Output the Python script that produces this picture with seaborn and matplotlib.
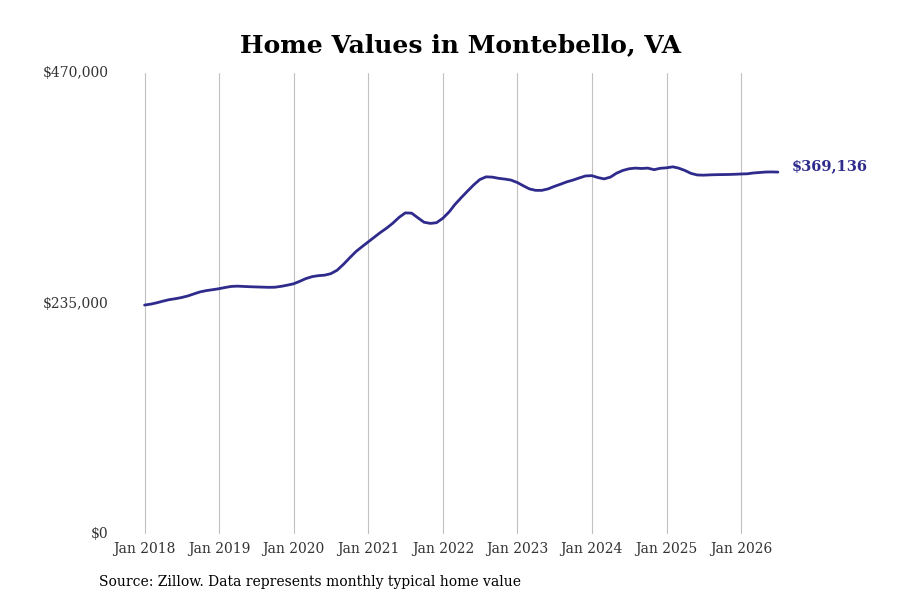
import seaborn as sns
import pandas as pd
import matplotlib.pyplot as plt
import matplotlib.dates as mdates

# valores mensuales (ene 2018 - jul 2026)
values_2018 = [233500, 234500, 235800, 237500, 239000, 240000, 241200, 242800, 245000, 247000, 248300, 249200]
values_2019 = [250200, 251500, 252500, 252800, 252500, 252200, 252000, 251800, 251600, 251700, 252600, 253800]
values_2020 = [255200, 257800, 260500, 262500, 263500, 264000, 265500, 269000, 275000, 281500, 288000, 293000]
values_2021 = [298000, 303000, 307500, 312000, 317000, 323000, 327500, 327300, 322500, 318000, 316800, 317500]
values_2022 = [322000, 328500, 336000, 343000, 349500, 356000, 361500, 364300, 364000, 362800, 362000, 361000]
values_2023 = [358500, 355000, 352000, 350500, 350500, 352000, 354500, 356800, 359200, 361000, 363200, 365200]
values_2024 = [365500, 363500, 362200, 364000, 368000, 370800, 372500, 373200, 372800, 373200, 371600, 373000]
values_2025 = [373500, 374500, 373200, 370800, 367800, 366200, 366000, 366300, 366500, 366600, 366700, 366900]
values_2026 = [367200, 367400, 368200, 368700, 369200, 369300, 369136]

values = (values_2018 + values_2019 + values_2020 + values_2021 + values_2022
          + values_2023 + values_2024 + values_2025 + values_2026)
dates = pd.date_range("2018-01-01", periods=len(values), freq="MS")
df = pd.DataFrame({"date": dates, "value": values})

y_ticks = [0, 235000, 470000]
y_labels = ["$0", "$235,000", "$470,000"]
last_label = "$369,136"
line_color = "#2e2b8c"

sns.set_style("white")
plt.rcParams['font.family'] = ['DejaVu Serif']

fig = plt.figure(figsize=(9, 6), dpi=100)
ax = fig.add_axes([0.128, 0.11, 0.75, 0.768])

sns.lineplot(data=df, x="date", y="value", color=line_color, linewidth=2, ax=ax)

ax.set_ylim(0, 470000)
ax.set_xlim(pd.Timestamp("2017-08-10"), pd.Timestamp("2026-08-30"))
ax.set_yticks(y_ticks)
ax.set_yticklabels(y_labels)
ax.xaxis.set_major_locator(mdates.YearLocator())
ax.xaxis.set_major_formatter(mdates.DateFormatter("Jan %Y"))
ax.grid(axis="x", color="#c0c0c0", linewidth=0.8)
ax.grid(axis="y", visible=False)
for s in ax.spines.values():
    s.set_visible(False)
ax.tick_params(axis="both", length=0, labelsize=10, labelcolor="#333333")
ax.tick_params(axis="x", pad=6)
ax.tick_params(axis="y", pad=5)
for lbl in ax.get_yticklabels():
    lbl.set_verticalalignment("center")
ax.set_xlabel("")
ax.set_ylabel("")

# etiqueta del último valor
ax.annotate(last_label, xy=(df["date"].iloc[-1], df["value"].iloc[-1]),
            xytext=(10, 4), textcoords="offset points", va="center", ha="left",
            fontsize=10.5, fontweight="bold", color=line_color, annotation_clip=False)

fig.text(461 / 900, 1 - 45 / 600, "Home Values in Montebello, VA", ha="center", va="center",
         fontsize=18, fontweight="bold", color="black")
fig.text(99 / 900, 1 - 582 / 600, "Source: Zillow. Data represents monthly typical home value",
         ha="left", va="center", fontsize=10, color="black")

fig.savefig("out.png", dpi=100)
